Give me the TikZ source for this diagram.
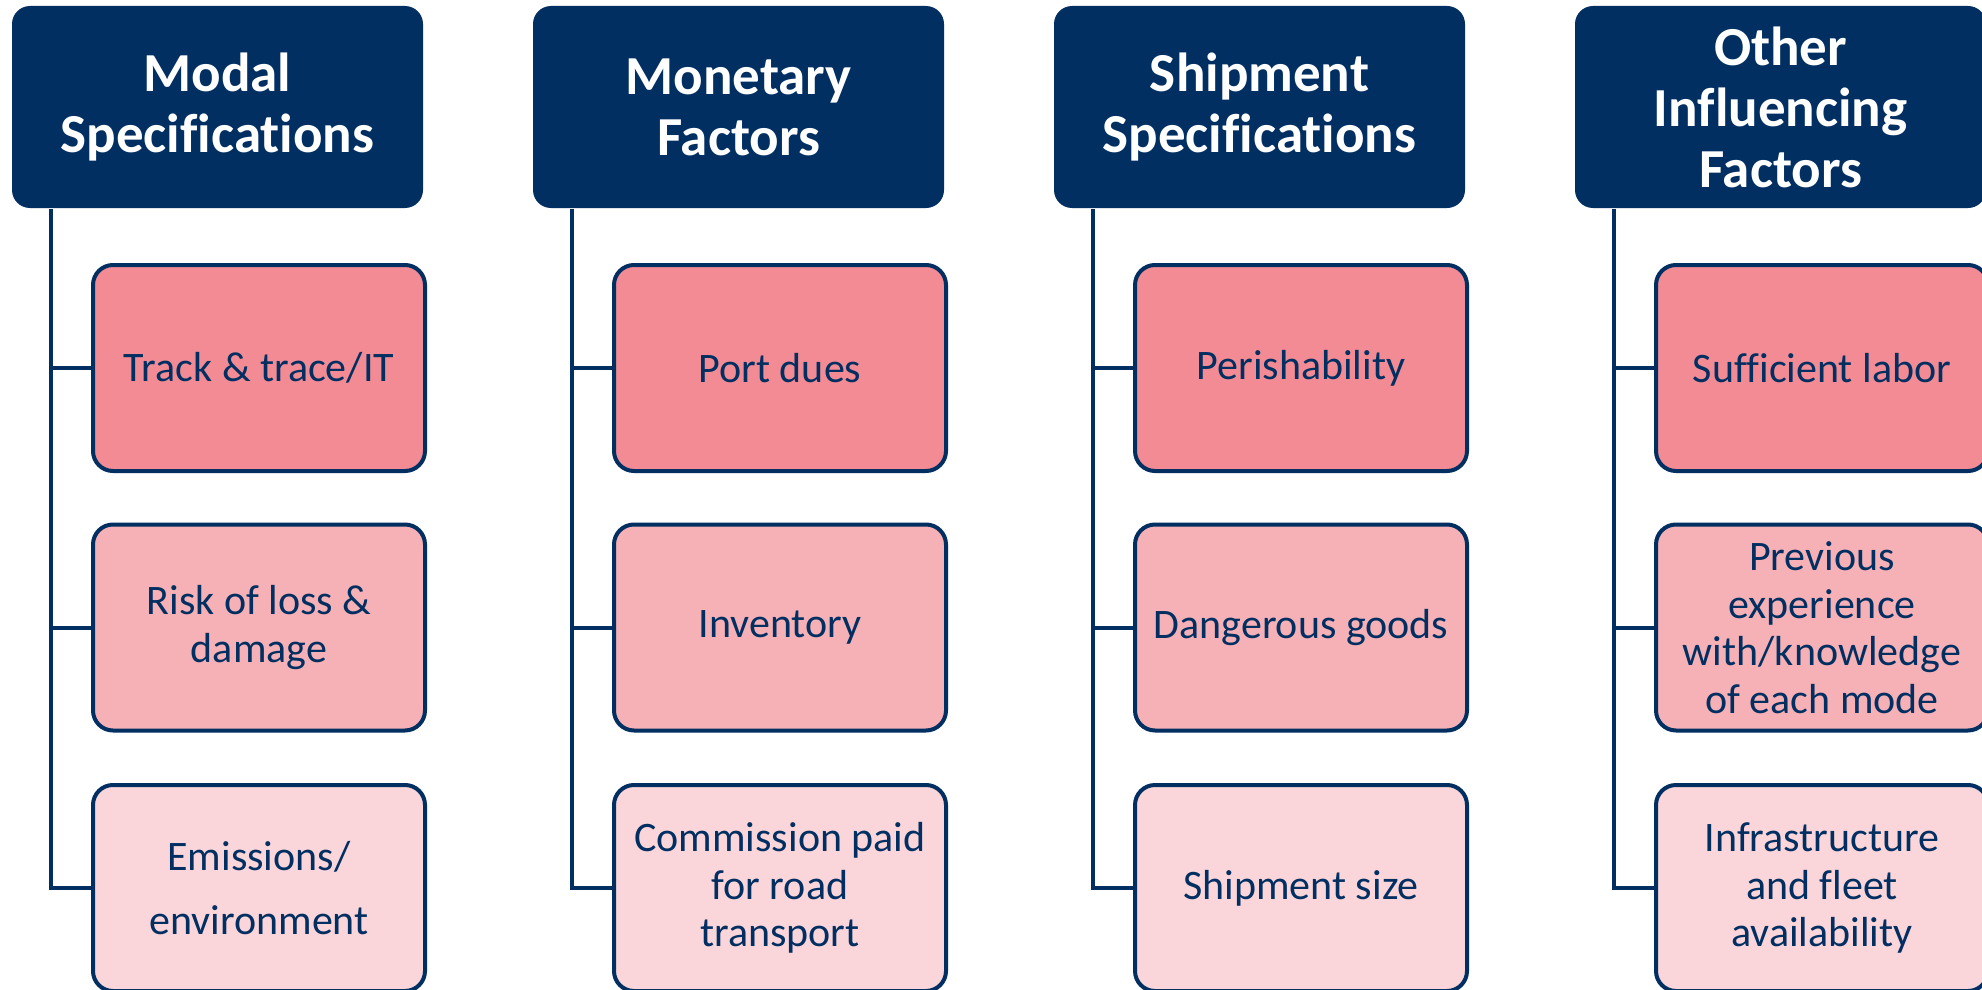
\documentclass[tikz,border=0pt]{standalone}
\usepackage{fontspec}
\setmainfont{Carlito}[Ligatures=NoCommon]
\definecolor{navy}{HTML}{022F62}
\definecolor{pinkA}{HTML}{F28B94}
\definecolor{pinkB}{HTML}{F6B1B6}
\definecolor{pinkC}{HTML}{FAD6DA}
\tikzset{
  head/.style={fill=navy, draw=none, rounded corners=18pt, minimum width=411pt, minimum height=202pt,
    text=white, align=center, inner sep=0pt, font=\fontsize{55}{61}\selectfont\bfseries},
  item/.style={draw=navy, line width=4pt, rounded corners=20pt, minimum width=332pt, minimum height=206pt,
    text=navy, align=center, inner sep=0pt, font=\fontsize{42}{47.5}\selectfont},
  lvA/.style={item, fill=pinkA},
  lvB/.style={item, fill=pinkB},
  lvC/.style={item, fill=pinkC},
  trunk/.style={draw=navy, line width=4pt, line cap=rect}
}
\begin{document}
\begin{tikzpicture}[x=1pt,y=-1pt]
\useasboundingbox (0,0) rectangle (1982,990);
\clip (0,0) rectangle (1982,990);
\fill[white] (0,0) rectangle (1982,990);
% column 1
\node[head] (h1) at (217.5,107) {Modal\\Specifications};
\node[lvA] (c11) at (259,368) {Track \& trace/IT};
\node[lvB] (c12) at (259,627.5) {Risk of loss \&\\damage};
\node[lvC] (c13) at (259,888) {Emissions/\\[16pt]environment};
% column 2
\node[head] (h2) at (738.5,107) {Monetary\\Factors};
\node[lvA] (c21) at (780,368) {Port dues};
\node[lvB] (c22) at (780,627.5) {Inventory};
\node[lvC] (c23) at (780,888) {Commission paid\\for road\\transport};
% column 3
\node[head] (h3) at (1259.5,107) {Shipment\\Specifications};
\node[lvA] (c31) at (1301,368) {Perishability};
\node[lvB] (c32) at (1301,627.5) {Dangerous goods};
\node[lvC] (c33) at (1301,888) {Shipment size};
% column 4
\node[head] (h4) at (1780.5,107) {Other\\Influencing\\Factors};
\node[lvA] (c41) at (1822,368) {Sufficient labor};
\node[lvB] (c42) at (1822,627.5) {Previous\\experience\\with/knowledge\\of each mode};
\node[lvC] (c43) at (1822,888) {Infrastructure\\and fleet\\availability};
% connectors
\foreach \i in {1,2,3,4}{
  \coordinate (t\i) at ([xshift=39pt,yshift=-3pt]h\i.south west);
  \draw[trunk] (t\i) |- (c\i3.west);
  \draw[trunk] (t\i |- c\i1.west) -- (c\i1.west);
  \draw[trunk] (t\i |- c\i2.west) -- (c\i2.west);
}
\end{tikzpicture}
\end{document}
